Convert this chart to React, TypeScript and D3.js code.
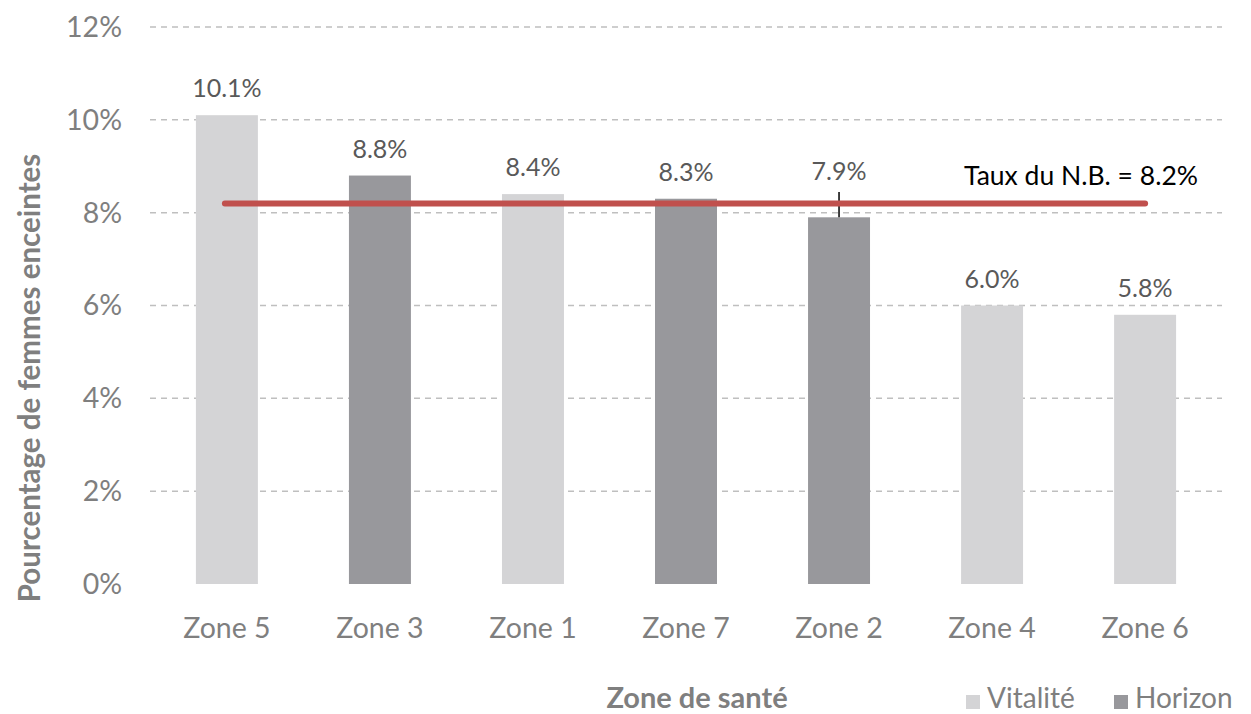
import { useEffect, useRef } from "react";
import * as d3 from "d3";

const zones = ["Zone 5", "Zone 3", "Zone 1", "Zone 7", "Zone 2", "Zone 4", "Zone 6"];
const rates = [10.1, 8.8, 8.4, 8.3, 7.9, 6.0, 5.8];
const networks = ["Vitalité", "Horizon", "Vitalité", "Horizon", "Horizon", "Vitalité", "Vitalité"];
const yTicks = [0, 2, 4, 6, 8, 10, 12];
const provincialRate = 8.2;
const legendItems = ["Vitalité", "Horizon"];

const colors: Record<string, string> = { "Vitalité": "#d4d4d6", "Horizon": "#98989c" };
const font = "Lato, 'Open Sans', sans-serif";

export default function App() {
  const svgRef = useRef<SVGSVGElement>(null);

  useEffect(() => {
    const width = 1251;
    const height = 714;
    const marginLeft = 150;
    const marginRight = 29;
    const marginTop = 27;
    const plotBottom = 584;

    const svg = d3.select(svgRef.current)
      .attr("width", width)
      .attr("height", height)
      .style("font-family", font);
    svg.selectAll("*").remove();

    const x = d3.scaleBand()
      .domain(zones)
      .range([marginLeft, width - marginRight])
      .paddingInner(0.595)
      .paddingOuter(0.3);

    const y = d3.scaleLinear().domain([0, 12]).range([plotBottom, marginTop]);

    // gridlines
    svg.append("g")
      .selectAll("line")
      .data(yTicks.filter(t => t > 0))
      .enter()
      .append("line")
      .attr("x1", marginLeft)
      .attr("x2", width - marginRight)
      .attr("y1", d => y(d))
      .attr("y2", d => y(d))
      .attr("stroke", "#bfbfbf")
      .attr("stroke-width", 1.5)
      .attr("stroke-dasharray", "6,5");

    // y tick labels
    svg.append("g")
      .selectAll("text")
      .data(yTicks)
      .enter()
      .append("text")
      .attr("x", 122)
      .attr("y", d => y(d))
      .attr("dy", "0.35em")
      .attr("text-anchor", "end")
      .attr("fill", "#7f7f7f")
      .attr("font-size", 28.5)
      .text(d => `${d}%`);

    // bars
    svg.append("g")
      .selectAll("rect")
      .data(zones)
      .enter()
      .append("rect")
      .attr("x", d => x(d)!)
      .attr("width", x.bandwidth())
      .attr("y", (d, i) => y(rates[i]))
      .attr("height", (d, i) => y(0) - y(rates[i]))
      .attr("fill", (d, i) => colors[networks[i]]);

    // value labels
    svg.append("g")
      .selectAll("text")
      .data(zones)
      .enter()
      .append("text")
      .attr("x", d => x(d)! + x.bandwidth() / 2)
      .attr("y", (d, i) => i === 4 ? 180 : y(rates[i]) - 18)
      .attr("text-anchor", "middle")
      .attr("fill", "#595959")
      .attr("font-size", 25)
      .text((d, i) => `${rates[i].toFixed(1)}%`);

    // leader line for Zone 2 label
    const z2 = x("Zone 2")! + x.bandwidth() / 2;
    svg.append("line")
      .attr("x1", z2).attr("x2", z2)
      .attr("y1", 192).attr("y2", y(rates[4]))
      .attr("stroke", "#000")
      .attr("stroke-width", 1.5);

    // provincial rate line
    const xFirst = x(zones[0])! + x.bandwidth() / 2;
    const xLast = x(zones[zones.length - 1])! + x.bandwidth() / 2;
    svg.append("line")
      .attr("x1", xFirst - 2).attr("x2", xLast)
      .attr("y1", y(provincialRate)).attr("y2", y(provincialRate))
      .attr("stroke", "#c0504d")
      .attr("stroke-width", 6)
      .attr("stroke-linecap", "round");

    svg.append("text")
      .attr("x", 1198)
      .attr("y", 185)
      .attr("text-anchor", "end")
      .attr("fill", "#000")
      .attr("font-size", 26.5)
      .text(`Taux du N.B. = ${provincialRate}%`);

    // x tick labels
    svg.append("g")
      .selectAll("text")
      .data(zones)
      .enter()
      .append("text")
      .attr("x", d => x(d)! + x.bandwidth() / 2)
      .attr("y", 638)
      .attr("text-anchor", "middle")
      .attr("fill", "#7f7f7f")
      .attr("font-size", 28.5)
      .text(d => d);

    // axis titles
    svg.append("text")
      .attr("transform", `translate(40,378) rotate(-90)`)
      .attr("text-anchor", "middle")
      .attr("fill", "#7f7f7f")
      .attr("font-size", 29.5)
      .attr("font-weight", "bold")
      .text("Pourcentage de femmes enceintes");

    svg.append("text")
      .attr("x", 697)
      .attr("y", 708)
      .attr("text-anchor", "middle")
      .attr("fill", "#7f7f7f")
      .attr("font-size", 29)
      .attr("font-weight", "bold")
      .text("Zone de santé");

    // legend
    const legend = svg.append("g")
      .selectAll("g")
      .data(legendItems)
      .enter()
      .append("g")
      .attr("transform", (d, i) => `translate(${966 + i * 148},695)`);
    legend.append("rect")
      .attr("width", 14).attr("height", 14)
      .attr("fill", d => colors[d]);
    legend.append("text")
      .attr("x", 21).attr("y", 13)
      .attr("fill", "#7f7f7f")
      .attr("font-size", 28)
      .text(d => d);
  }, []);

  return <svg ref={svgRef} style={{ position: "absolute", left: 0, top: 0 }}></svg>;
}
